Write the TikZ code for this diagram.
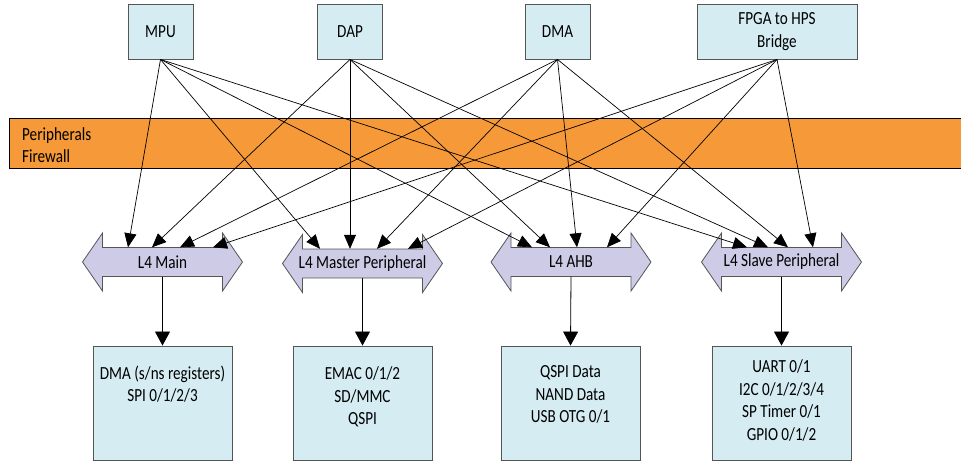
\documentclass[tikz,border=0pt]{standalone}
\usepackage{fontspec}
\setmainfont{Carlito}[FakeStretch=0.82]
\usetikzlibrary{arrows.meta}
\definecolor{boxblue}{RGB}{213,236,243}
\definecolor{fworange}{RGB}{246,153,56}
\definecolor{buslilac}{RGB}{205,203,230}
\definecolor{edgegray}{RGB}{85,85,85}
% bus with two heads, #1 = centre
\newcommand{\drawbus}[1]{%
	\draw[draw=edgegray, fill=buslilac, line width=0.8pt, shift={#1}]
		(-60,-14.5) -- (60,-14.5) -- (60,-29) -- (80,0) -- (60,29) -- (60,14.5)
		-- (-60,14.5) -- (-60,29) -- (-80,0) -- (-60,-29) -- cycle;}
\begin{document}
\begin{tikzpicture}[
		x=1pt, y=-1pt,
		% ena velikost pisave za vse napise
		labelfont/.style={font=\fontsize{18.5}{22.5}\selectfont},
		unitbox/.style={labelfont, draw=edgegray, fill=boxblue, line width=0.9pt, inner sep=0pt, align=center},
		unittext/.style={labelfont, align=center, inner sep=0pt, anchor=north},
		buslabel/.style={labelfont, minimum width=120pt, minimum height=29pt, inner sep=0pt},
		busarrow/.style={-{Triangle[width=12pt,length=14pt]}, line width=0.7pt},
		downarrow/.style={-{Triangle[width=15pt,length=14pt]}, line width=0.8pt},
		]
		\useasboundingbox (0,0) rectangle (961,461);
		% firewall
		\draw[fill=fworange, line width=0.8pt] (9,118) rectangle (970,168);
		\node[labelfont, anchor=west, align=left, inner sep=0pt] (firewall) at (22,145) {Peripherals\\Firewall};
		% masters
		\node[unitbox, minimum width=65pt, minimum height=55pt] (mpu) at (160.5,31.5) {MPU};
		\node[unitbox, minimum width=65pt, minimum height=55pt] (dap) at (350,31.5) {DAP};
		\node[unitbox, minimum width=65pt, minimum height=55pt] (dma) at (557.5,31.5) {DMA};
		\node[unitbox, minimum width=160pt, minimum height=55pt] (fpga) at (777,31.5) {FPGA to HPS\\Bridge};
		% buses
		\drawbus{(162.5,262)}
		\node[buslabel] (main) at (162.5,262) {L4 Main};
		\drawbus{(362.5,263.5)}
		\node[buslabel] (master) at (362.5,263.5) {L4 Master Peripheral};
		\drawbus{(571,262)}
		\node[buslabel] (ahb) at (571,262) {L4 AHB};
		\drawbus{(781.5,262)}
		\node[buslabel] (slave) at (781.5,262) {L4 Slave Peripheral};
		% slaves
		\node[unitbox, minimum width=139pt, minimum height=114pt] (mainbox) at (162.5,403) {};
		\node[unittext] (maintext) at ([yshift=-20pt]mainbox.north) {DMA (s/ns registers)\\SPI 0/1/2/3};
		\node[unitbox, minimum width=139pt, minimum height=114pt] (masterbox) at (362.5,403) {};
		\node[unittext] (mastertext) at ([yshift=-21pt]masterbox.north) {EMAC 0/1/2\\SD/MMC\\QSPI};
		\node[unitbox, minimum width=139pt, minimum height=114pt] (ahbbox) at (570.5,403) {};
		\node[unittext] (ahbtext) at ([yshift=-20pt]ahbbox.north) {QSPI Data\\NAND Data\\USB OTG 0/1};
		\node[unitbox, minimum width=139pt, minimum height=114pt] (slavebox) at (781.5,403) {};
		\node[unittext] (slavetext) at ([yshift=-14pt]slavebox.north) {UART 0/1\\I2C 0/1/2/3/4\\SP Timer 0/1\\GPIO 0/1/2};
		% masters to buses
		\draw[busarrow] (mpu.south) -- ([xshift=-34.5pt]main.north);
		\draw[busarrow] (dap.south) -- ([xshift=-10.5pt]main.north);
		\draw[busarrow] (dma.south) -- ([xshift=17.5pt]main.north);
		\draw[busarrow] (fpga.south) -- ([xshift=50.5pt]main.north);
		\draw[busarrow] (mpu.south) -- ([xshift=-42.5pt]master.north);
		\draw[busarrow] (dap.south) -- ([xshift=-12.5pt]master.north);
		\draw[busarrow] (dma.south) -- ([xshift=14.5pt]master.north);
		\draw[busarrow] (fpga.south) -- ([xshift=45.5pt]master.north);
		\draw[busarrow] (mpu.south) -- ([xshift=-39pt]ahb.north);
		\draw[busarrow] (dap.south) -- ([xshift=-21pt]ahb.north);
		\draw[busarrow] (dma.south) -- ([xshift=6pt]ahb.north);
		\draw[busarrow] (fpga.south) -- ([xshift=36pt]ahb.north);
		\draw[busarrow] (mpu.south) -- ([xshift=-34.5pt]slave.north);
		\draw[busarrow] (dap.south) -- ([xshift=-13.5pt]slave.north);
		\draw[busarrow] (dma.south) -- ([xshift=6.5pt]slave.north);
		\draw[busarrow] (fpga.south) -- ([xshift=31.5pt]slave.north);
		% buses to slaves
		\draw[downarrow] (main.south) -- (mainbox.north);
		\draw[downarrow] (master.south) -- (masterbox.north);
		\draw[downarrow] (ahb.south) -- (ahbbox.north);
		\draw[downarrow] (slave.south) -- (slavebox.north);
	\end{tikzpicture}
\end{document}
